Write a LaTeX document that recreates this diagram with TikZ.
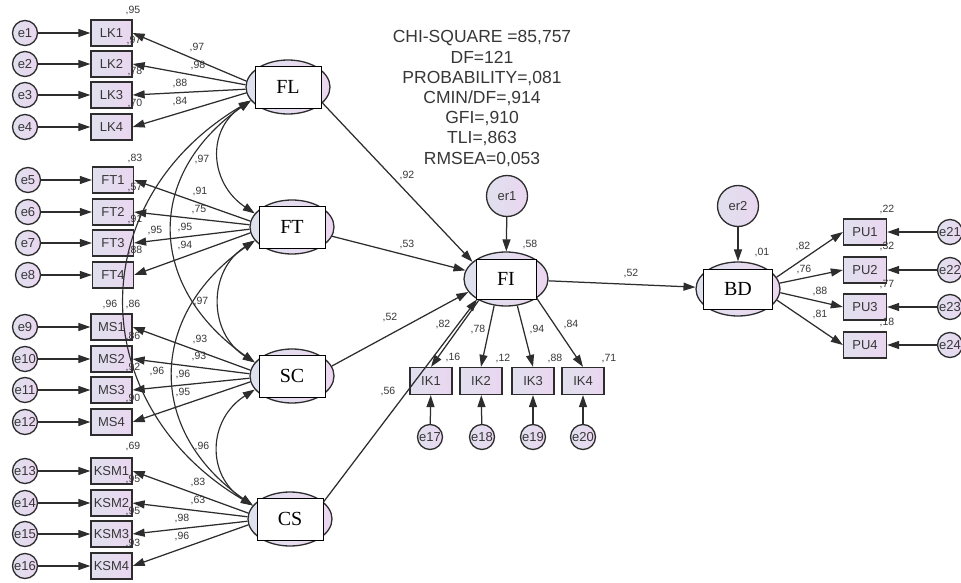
\documentclass[tikz,border=0pt]{standalone}
\usepackage{fontspec}
\setmainfont{Liberation Sans}
\newfontfamily\serifL{Liberation Serif}
\usetikzlibrary{arrows.meta,shapes.geometric}

\definecolor{lineC}{RGB}{45,45,45}
\definecolor{txtC}{RGB}{55,55,55}
\definecolor{boxL}{RGB}{224,224,238}
\definecolor{boxR}{RGB}{234,214,240}
\definecolor{ellL}{RGB}{222,226,238}
\definecolor{ellR}{RGB}{236,214,240}

\tikzset{
 obs/.style={draw=lineC, line width=1.3pt, left color=boxL, right color=boxR, minimum width=41pt, minimum height=26pt, inner sep=0pt, font=\fontsize{13}{13}\selectfont, text=txtC},
 err/.style={circle, draw=lineC, line width=1.3pt, left color=boxL, right color=boxR, minimum size=25pt, inner sep=0pt, font=\fontsize{13}{13}\selectfont, text=txtC},
 bigerr/.style={err, minimum size=41pt},
 lat/.style={ellipse, draw=lineC, line width=1.3pt, left color=ellL, right color=ellR, minimum width=84pt, minimum height=54pt, inner sep=0pt},
 latbox/.style={draw=black, fill=white, line width=0.9pt, minimum width=66pt, minimum height=42pt, inner sep=0pt, font=\serifL\fontsize{20}{20}\selectfont},
 arr/.style={draw=lineC, line width=1.25pt, -{Triangle[length=12pt,width=8pt]}},
 cov/.style={draw=lineC, line width=1.15pt, {Triangle[length=12pt,width=8pt]}-{Triangle[length=12pt,width=8pt]}},
 lab/.style={font=\fontsize{10.5}{10.5}\selectfont, text=txtC, inner sep=0pt},
 stats/.style={font=\fontsize{17.5}{20.2}\selectfont, text=txtC, align=center, inner sep=0pt},
}

\begin{document}
\begin{tikzpicture}[x=1pt,y=-1pt]
\useasboundingbox (0,0) rectangle (961,583);

% ---------- latent variables ----------
\node[lat] (FL) at (288,87) {};  \node[latbox] (FLt) at (FL) {FL};
\node[lat] (FT) at (292,227) {}; \node[latbox] (FTt) at (FT) {FT};
\node[lat] (SC) at (292,376) {}; \node[latbox] (SCt) at (SC) {SC};
\node[lat] (CS) at (290,519) {}; \node[latbox] (CSt) at (CS) {CS};
\node[lat] (FI) at (506,279) {}; \node[latbox, minimum width=60pt, minimum height=40pt] (FIt) at (FI) {FI};
\node[lat] (BD) at (738,289) {}; \node[latbox, minimum width=69pt, minimum height=40pt] (BDt) at (BD) {BD};

\node[bigerr] (er1) at (507,196) {er1};
\node[bigerr] (er2) at (738,206) {er2};

% ---------- indicators (left) ----------
\node[obs] (LK1) at (111.5,33) {LK1};
\node[obs] (LK2) at (111.5,64) {LK2};
\node[obs] (LK3) at (111.5,95) {LK3};
\node[obs] (LK4) at (111.5,127) {LK4};
\node[obs] (FT1) at (113,180) {FT1};
\node[obs] (FT2) at (113,212) {FT2};
\node[obs] (FT3) at (113,243) {FT3};
\node[obs] (FT4) at (113,275) {FT4};
\node[obs] (MS1) at (111.5,327) {MS1};
\node[obs] (MS2) at (111.5,359) {MS2};
\node[obs] (MS3) at (111.5,390) {MS3};
\node[obs] (MS4) at (111.5,422) {MS4};
\node[obs] (KSM1) at (111.5,471) {KSM1};
\node[obs] (KSM2) at (111.5,503) {KSM2};
\node[obs] (KSM3) at (111.5,534) {KSM3};
\node[obs] (KSM4) at (111.5,566) {KSM4};

\node[err] (e1) at (25,33) {e1};
\node[err] (e2) at (25,64) {e2};
\node[err] (e3) at (25,95) {e3};
\node[err] (e4) at (25,127) {e4};
\node[err] (e5) at (28,180) {e5};
\node[err] (e6) at (28,212) {e6};
\node[err] (e7) at (28,243) {e7};
\node[err] (e8) at (28,275) {e8};
\node[err] (e9) at (25,327) {e9};
\node[err] (e10) at (25,359) {e10};
\node[err] (e11) at (25,390) {e11};
\node[err] (e12) at (25,422) {e12};
\node[err] (e13) at (25,471) {e13};
\node[err] (e14) at (25,503) {e14};
\node[err] (e15) at (25,534) {e15};
\node[err] (e16) at (25,566) {e16};

% ---------- FI indicators ----------
\node[obs, minimum width=42pt, minimum height=27pt] (IK1) at (431,381) {IK1};
\node[obs, minimum width=42pt, minimum height=27pt] (IK2) at (481,381) {IK2};
\node[obs, minimum width=42pt, minimum height=27pt] (IK3) at (533,381) {IK3};
\node[obs, minimum width=42pt, minimum height=27pt] (IK4) at (583,381) {IK4};
\node[err] (e17) at (430,437) {e17};
\node[err] (e18) at (482,437) {e18};
\node[err] (e19) at (533,437) {e19};
\node[err] (e20) at (583,437) {e20};

% ---------- BD indicators ----------
\node[obs, minimum width=43pt] (PU1) at (865,232) {PU1};
\node[obs, minimum width=43pt] (PU2) at (865,270) {PU2};
\node[obs, minimum width=43pt] (PU3) at (865,307) {PU3};
\node[obs, minimum width=43pt] (PU4) at (865,345) {PU4};
\node[err] (e21) at (950,232) {e21};
\node[err] (e22) at (950,270) {e22};
\node[err] (e23) at (950,307) {e23};
\node[err] (e24) at (950,345) {e24};

% ---------- error arrows ----------
\foreach \e/\b in {e1/LK1,e2/LK2,e3/LK3,e4/LK4,e5/FT1,e6/FT2,e7/FT3,e8/FT4,e9/MS1,e10/MS2,e11/MS3,e12/MS4,e13/KSM1,e14/KSM2,e15/KSM3,e16/KSM4,e17/IK1,e18/IK2,e19/IK3,e20/IK4,e21/PU1,e22/PU2,e23/PU3,e24/PU4}
  \draw[arr] (\e) -- (\b);

% ---------- loadings ----------
\draw[arr] (FL.172) -- (LK1.east);
\draw[arr] (FL.177) -- (LK2.east);
\draw[arr] (FL.183) -- (LK3.east);
\draw[arr] (FL.188) -- (LK4.east);
\draw[arr] (FT.172) -- (FT1.east);
\draw[arr] (FT.177) -- (FT2.east);
\draw[arr] (FT.183) -- (FT3.east);
\draw[arr] (FT.188) -- (FT4.east);
\draw[arr] (SC.172) -- (MS1.east);
\draw[arr] (SC.177) -- (MS2.east);
\draw[arr] (SC.183) -- (MS3.east);
\draw[arr] (SC.188) -- (MS4.east);
\draw[arr] (CS.172) -- (KSM1.east);
\draw[arr] (CS.177) -- (KSM2.east);
\draw[arr] (CS.183) -- (KSM3.east);
\draw[arr] (CS.188) -- (KSM4.east);

\draw[arr] (FI.218) -- (IK1.north);
\draw[arr] (FI.246) -- (IK2.north);
\draw[arr] (FI.293) -- (IK3.north);
\draw[arr] (FI.328) -- (IK4.north);

\draw[arr] (BD.17) -- (PU1.west);
\draw[arr] (BD.8) -- (PU2.west);
\draw[arr] (BD.-5) -- (PU3.west);
\draw[arr] (BD.-16) -- (PU4.west);

% ---------- structural paths ----------
\draw[arr] (FL.-25) -- (FI.153);
\draw[arr] (FT.-13) -- (FI.168);
\draw[arr] (SC.14) -- (FI.199);
\draw[arr] (CS.27) -- (FI.215);
\draw[arr] (FI) -- (BD);
\draw[arr] (er1) -- (FI);
\draw[arr] (er2) -- (BD);

% ---------- covariances ----------
\draw[cov] (FL.200) .. controls +(-45,30) and +(-45,-30) .. (FT.160);
\draw[cov] (FT.200) .. controls +(-47,30) and +(-47,-30) .. (SC.160);
\draw[cov] (SC.200) .. controls +(-47,30) and +(-47,-30) .. (CS.160);
\draw[cov] (FL.200) .. controls +(-107,75) and +(-107,-75) .. (SC.160);
\draw[cov] (FT.200) .. controls +(-107,75) and +(-107,-75) .. (CS.160);
\draw[cov] (FL.200) .. controls +(-169,100) and +(-169,-100) .. (CS.160);

% ---------- labels ----------
\node[lab] (l1) at (133,11) {,95};
\node[lab] (l2) at (134,41) {,97};
\node[lab] (l3) at (135,72) {,78};
\node[lab] (l4) at (135,104) {,70};
\node[lab] (l5) at (197,48) {,97};
\node[lab] (l6) at (198,66) {,98};
\node[lab] (l7) at (180,84) {,88};
\node[lab] (l8) at (180,102) {,84};

\node[lab] (l9) at (135,159) {,83};
\node[lab] (l10) at (135,188) {,57};
\node[lab] (l11) at (135,220) {,91};
\node[lab] (l12) at (135,251) {,88};
\node[lab] (l13) at (200,192) {,91};
\node[lab] (l14) at (199,210) {,75};
\node[lab] (l15) at (185,228) {,95};
\node[lab] (l16) at (185,246) {,94};
\node[lab] (l17) at (155,231) {,95};
\node[lab] (l18) at (202,160) {,97};

\node[lab] (l19) at (110,305) {,96};
\node[lab] (l20) at (133,305) {,86};
\node[lab] (l21) at (133,337) {,86};
\node[lab] (l22) at (133,368) {,92};
\node[lab] (l23) at (133,399) {,90};
\node[lab] (l24) at (200,340) {,93};
\node[lab] (l25) at (199,357) {,93};
\node[lab] (l26) at (183,375) {,96};
\node[lab] (l27) at (183,393) {,95};
\node[lab] (l28) at (157,372) {,96};
\node[lab] (l29) at (201,302) {,97};

\node[lab] (l30) at (133,447) {,69};
\node[lab] (l31) at (133,480) {,95};
\node[lab] (l32) at (133,512) {,95};
\node[lab] (l33) at (133,544) {,93};
\node[lab] (l34) at (198,483) {,83};
\node[lab] (l35) at (198,501) {,63};
\node[lab] (l36) at (182,519) {,98};
\node[lab] (l37) at (182,537) {,96};
\node[lab] (l38) at (202,447) {,96};

\node[lab] (l39) at (407,176) {,92};
\node[lab] (l40) at (407,245) {,53};
\node[lab] (l41) at (390,318) {,52};
\node[lab] (l42) at (388,392) {,56};
\node[lab] (l43) at (530,245) {,58};
\node[lab] (l44) at (631,274) {,52};

\node[lab] (l45) at (443,325) {,82};
\node[lab] (l46) at (478,330) {,78};
\node[lab] (l47) at (537,330) {,94};
\node[lab] (l48) at (571,325) {,84};
\node[lab] (l49) at (453,358) {,16};
\node[lab] (l50) at (503,359) {,12};
\node[lab] (l51) at (555,359) {,88};
\node[lab] (l52) at (609,359) {,71};

\node[lab] (l53) at (762,253) {,01};
\node[lab] (l54) at (803,247) {,82};
\node[lab] (l55) at (804,270) {,76};
\node[lab] (l56) at (820,292) {,88};
\node[lab] (l57) at (820,315) {,81};
\node[lab] (l58) at (887,210) {,22};
\node[lab] (l59) at (887,247) {,32};
\node[lab] (l60) at (887,285) {,77};
\node[lab] (l61) at (887,323) {,18};

% ---------- fit statistics ----------
\node[stats] (fit) at (482,98.5) {CHI-SQUARE =85,757\\DF=121\\PROBABILITY=,081\\CMIN/DF=,914\\GFI=,910\\TLI=,863\\RMSEA=0,053};
\end{tikzpicture}
\end{document}
